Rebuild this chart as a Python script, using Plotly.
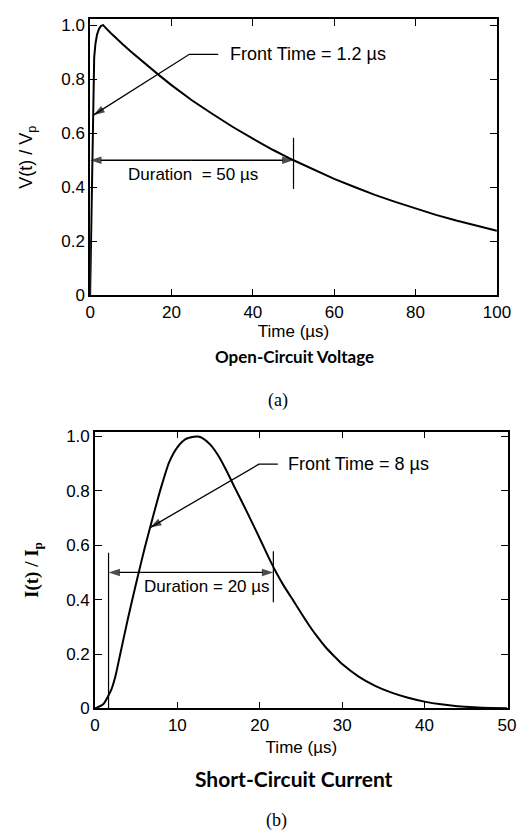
import plotly.graph_objects as go

# ---- Data ----
# (a) Open-circuit voltage, normalised V(t)/Vp vs time (µs)
V_TIME = [0, 0.2, 0.4, 0.6, 0.8, 1.0, 1.3, 1.7, 2.2, 2.7, 3.2, 3.6, 4, 5, 6, 8, 10, 12, 15,
          17, 20, 25, 30, 35, 40, 45, 50, 55, 60, 65, 70, 75, 80, 85, 90, 95, 100]
V_VALUE = [0, 0.20, 0.45, 0.66, 0.80, 0.88, 0.93, 0.965, 0.987, 0.997, 1.0, 0.995, 0.987,
           0.972, 0.957, 0.929, 0.902, 0.876, 0.838, 0.814, 0.778, 0.722, 0.672, 0.624,
           0.580, 0.538, 0.500, 0.464, 0.431, 0.401, 0.372, 0.346, 0.321, 0.298, 0.277,
           0.258, 0.239]

# (b) Short-circuit current, normalised I(t)/Ip vs time (µs)
I_TIME = [0, 1, 2, 2.5, 3, 4, 5, 6, 7, 8, 9, 10, 11, 12, 12.5, 13, 14, 15, 16, 17, 18, 19,
          20, 21, 22, 23, 24, 25, 26, 27, 28, 29, 30, 32, 34, 36, 38, 40, 42, 44, 46, 48, 50]
I_VALUE = [0, 0.015, 0.07, 0.12, 0.19, 0.33, 0.46, 0.585, 0.70, 0.81, 0.905, 0.96, 0.99,
           0.999, 1.0, 0.995, 0.97, 0.928, 0.872, 0.81, 0.75, 0.688, 0.625, 0.56, 0.50,
           0.447, 0.40, 0.352, 0.305, 0.263, 0.225, 0.193, 0.163, 0.117, 0.083, 0.058,
           0.039, 0.025, 0.015, 0.008, 0.004, 0.002, 0.001]

V_XTICKS = [0, 20, 40, 60, 80, 100]
I_XTICKS = [0, 10, 20, 30, 40, 50]
Y_TICKS = [0, 0.2, 0.4, 0.6, 0.8, 1.0]
Y_TICKTEXT = ["0", "0.2", "0.4", "0.6", "0.8", "1.0"]

V_DURATION = 50          # µs, half-value time for voltage
I_DUR_START = 1.65       # µs, duration marker start (current)
I_DUR_END = 21.65        # µs, duration marker end (current)
HALF = 0.5

V_FRONT_LABEL = "Front Time = 1.2 µs"
V_DUR_LABEL = "Duration  = 50 µs"
I_FRONT_LABEL = "Front Time = 8 µs"
I_DUR_LABEL = "Duration = 20 µs"

SANS = "Liberation Sans, Arial, sans-serif"
SERIF = "Liberation Serif, Times New Roman, serif"
CAL = "Lato, Open Sans, sans-serif"

fig = go.Figure()
fig.add_trace(go.Scatter(x=V_TIME, y=V_VALUE, mode="lines", xaxis="x", yaxis="y",
                         line=dict(color="black", width=2), showlegend=False,
                         name="Open-Circuit Voltage"))
fig.add_trace(go.Scatter(x=I_TIME, y=I_VALUE, mode="lines", xaxis="x2", yaxis="y2",
                         line=dict(color="black", width=2, shape="spline", smoothing=0.6),
                         showlegend=False, name="Short-Circuit Current"))


def arrow(xs, ys, xa, ya):
    """Polyline with an arrowhead at its last point."""
    sizes = [0] * (len(xs) - 1) + [12]
    fig.add_trace(go.Scatter(x=xs, y=ys, mode="lines+markers", xaxis=xa, yaxis=ya,
                             line=dict(color="black", width=1.3),
                             marker=dict(symbol="arrow", angleref="previous", size=sizes,
                                         color="black", line=dict(width=0)),
                             showlegend=False, hoverinfo="skip"))


# (a) front-time leader and arrow
arrow([31.5, 24.4, 0.8], [0.892, 0.892, 0.667], "x", "y")
# (a) duration double arrow
mid_v = V_DURATION / 2
arrow([mid_v, 0], [HALF, HALF], "x", "y")
arrow([mid_v, V_DURATION], [HALF, HALF], "x", "y")
# (b) front-time leader and arrow
arrow([22.2, 19.9, 6.7], [0.898, 0.898, 0.665], "x2", "y2")
# (b) duration double arrow
mid_i = (I_DUR_START + I_DUR_END) / 2
arrow([mid_i, I_DUR_START], [HALF, HALF], "x2", "y2")
arrow([mid_i, I_DUR_END], [HALF, HALF], "x2", "y2")

axis_common = dict(showline=True, linecolor="black", linewidth=1.5, mirror="ticks",
                   ticks="inside", ticklen=7, tickwidth=1.2, tickcolor="black",
                   showgrid=False, zeroline=False,
                   tickfont=dict(family=SANS, size=17, color="black"))

fig.update_layout(
    width=527, height=837,
    margin=dict(l=0, r=0, t=0, b=0),
    paper_bgcolor="white", plot_bgcolor="white",
    showlegend=False,
    xaxis=dict(domain=[0.1518, 0.9526], anchor="y", range=[0, 100], tickvals=V_XTICKS,
               title=dict(text="Time (µs)", font=dict(family=SANS, size=17, color="black"),
                          standoff=3),
               **axis_common),
    yaxis=dict(domain=[0.6556, 0.9913], anchor="x", range=[0, 1.022], tickvals=Y_TICKS,
               ticktext=Y_TICKTEXT,
               title=dict(text="V(t) / V<sub>p</sub>",
                          font=dict(family=SANS, size=18, color="black"), standoff=24),
               **axis_common),
    xaxis2=dict(domain=[0.1613, 0.9740], anchor="y2", range=[0, 50.1], tickvals=I_XTICKS,
                title=dict(text="Time (µs)", font=dict(family=SANS, size=17, color="black"),
                           standoff=8),
                **axis_common),
    yaxis2=dict(domain=[0.1538, 0.4902], anchor="x2", range=[0, 1.018], tickvals=Y_TICKS,
                ticktext=Y_TICKTEXT,
                title=dict(text="<b>I(t) / I<sub>p</sub></b>",
                           font=dict(family=SERIF, size=19, color="black"), standoff=22),
                **axis_common),
)

ann = []
shapes = []

# --- (a) labels and marker ---
ann.append(dict(x=33.9, y=0.892, xref="x", yref="y", text=V_FRONT_LABEL, showarrow=False,
                xanchor="left", yanchor="middle",
                font=dict(family=SANS, size=18, color="black")))
shapes.append(dict(type="line", xref="x", yref="y", x0=V_DURATION, x1=V_DURATION,
                   y0=0.394, y1=0.583, line=dict(color="black", width=1.2)))
ann.append(dict(x=25.3, y=0.448, xref="x", yref="y", text=V_DUR_LABEL, showarrow=False,
                xanchor="center", yanchor="middle",
                font=dict(family=SANS, size=17, color="black")))

# --- (b) labels and markers ---
ann.append(dict(x=23.2, y=0.898, xref="x2", yref="y2", text=I_FRONT_LABEL, showarrow=False,
                xanchor="left", yanchor="middle",
                font=dict(family=SANS, size=18, color="black")))
shapes.append(dict(type="line", xref="x2", yref="y2", x0=I_DUR_START, x1=I_DUR_START,
                   y0=0, y1=0.572, line=dict(color="black", width=1.2)))
shapes.append(dict(type="line", xref="x2", yref="y2", x0=I_DUR_END, x1=I_DUR_END,
                   y0=0.39, y1=0.578, line=dict(color="black", width=1.2)))
ann.append(dict(x=13.55, y=0.448, xref="x2", yref="y2", text=I_DUR_LABEL, showarrow=False,
                xanchor="center", yanchor="middle",
                font=dict(family=SANS, size=17, color="black")))

# --- Captions ---
ann.append(dict(x=292 / 527, y=1 - 350 / 837, xref="paper", yref="paper",
                text="<b>Open-Circuit Voltage</b>", showarrow=False,
                xanchor="center", yanchor="middle",
                font=dict(family=CAL, size=17, color="black")))
ann.append(dict(x=275 / 527, y=1 - 395 / 837, xref="paper", yref="paper", text="(a)",
                showarrow=False, xanchor="center", yanchor="middle",
                font=dict(family=SERIF, size=18, color="black")))
ann.append(dict(x=291 / 527, y=1 - 780 / 837, xref="paper", yref="paper",
                text="<b>Short-Circuit Current</b>", showarrow=False,
                xanchor="center", yanchor="middle",
                font=dict(family=CAL, size=21, color="black")))
ann.append(dict(x=273 / 527, y=1 - 822 / 837, xref="paper", yref="paper", text="(b)",
                showarrow=False, xanchor="center", yanchor="middle",
                font=dict(family=SERIF, size=18, color="black")))

fig.update_layout(annotations=ann, shapes=shapes)
fig.write_html("out.html", config={"displayModeBar": False})
